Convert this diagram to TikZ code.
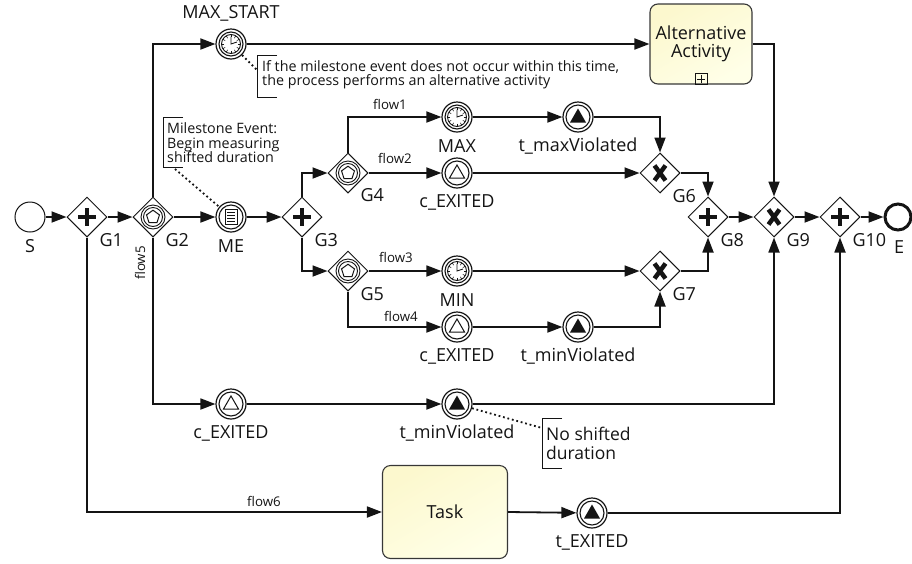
\documentclass[tikz,border=0pt]{standalone}
\usepackage{fontspec}
\setmainfont{Open Sans}
\usetikzlibrary{arrows.meta,shapes.geometric,calc}
\definecolor{taskA}{RGB}{252,248,206}
\definecolor{taskB}{RGB}{255,255,232}
\definecolor{ink}{RGB}{20,20,20}

\begin{document}
\begin{tikzpicture}[x=1pt,y=-1pt,
  every node/.style={text=ink},
  flow/.style={draw=ink, line width=1.8pt, -{Triangle[length=15pt,width=11pt]}},
  assoc/.style={draw=ink, line width=1.8pt, dash pattern=on 1.8pt off 2.8pt},
  bracket/.style={draw=ink, line width=1pt},
  gw/.style={diamond, draw=ink, line width=1pt, minimum width=40pt, minimum height=40pt, inner sep=0pt, fill=white},
  ev/.style={circle, draw=ink, line width=1.2pt, minimum size=30pt, inner sep=0pt, fill=white},
  startev/.style={ev, line width=1pt},
  endev/.style={circle, draw=ink, line width=3pt, minimum size=26pt, inner sep=0pt, fill=white},
  task/.style={draw=ink!85, line width=1.1pt, rounded corners=8pt, top color=taskA, bottom color=taskB, shading angle=30, align=center},
  lbl/.style={font=\fontsize{18}{18}\selectfont},
  flowlbl/.style={font=\fontsize{13.3}{15}\selectfont},
  note/.style={font=\fontsize{14.3}{14}\selectfont, align=left, anchor=west, inner sep=0pt},
  % gateway markers
  plusmark/.pic={\draw[ink, line width=3.5pt] (-9,0) -- (9,0) (0,-9) -- (0,9);},
  xmark/.pic={\draw[ink, line width=4.5pt] (-5.5,-7.5) -- (5.5,7.5) (-5.5,7.5) -- (5.5,-7.5);},
  evgw/.pic={\draw[ink, line width=0.9pt] (0,0) circle (12) (0,0) circle (9.5);
             \draw[ink, line width=1pt, line join=miter] (270:6.8) -- (342:6.8) -- (54:6.8) -- (126:6.8) -- (198:6.8) -- cycle;},
  % intermediate event markers
  ring/.pic={\draw[ink, line width=1.1pt] (0,0) circle (12);},
  timer/.pic={\draw[ink, line width=0.9pt] (0,0) circle (9.5);
              \foreach \a in {0,30,...,330} \draw[ink, line width=0.6pt] (\a:6.8) -- (\a:9.5);
              \draw[ink, line width=0.9pt] (0,-7.5) -- (0,0) -- (6,-2);},
  condmark/.pic={\draw[ink, line width=0.9pt] (-6,-7.5) rectangle (6,7.5);
                 \foreach \yy in {-4.5,-1.5,1.5,4.5} \draw[ink, line width=0.8pt] (-4,\yy) -- (4,\yy);},
  sigcatch/.pic={\draw[ink, line width=1pt, line join=miter] (0,-8) -- (7.5,5) -- (-7.5,5) -- cycle;},
  sigthrow/.pic={\fill[ink] (0,-8.5) -- (8,5.5) -- (-8,5.5) -- cycle;},
]
\useasboundingbox (0,0) rectangle (912,563);

% ---- events and gateways on the main line
\node[startev] (S) at (30,217) {};
\node[gw] (G1) at (87,217) {};   \pic at (G1.center) {plusmark};
\node[gw] (G2) at (153,217) {};  \pic at (G2.center) {evgw};
\node[ev] (ME) at (231,217) {};  \pic at (ME.center) {ring}; \pic at (ME.center) {condmark};
\node[gw] (G3) at (302,217) {};  \pic at (G3.center) {plusmark};
\node[gw] (G8) at (708,217) {};  \pic at (G8.center) {plusmark};
\node[gw] (G9) at (774,217) {};  \pic at (G9.center) {xmark};
\node[gw] (G10) at (840,217) {}; \pic at (G10.center) {plusmark};
\node[endev] (E) at (898,217) {};

% ---- upper branch
\node[gw] (G4) at (348,173) {};  \pic at (G4.center) {evgw};
\node[ev] (MAX) at (457,117) {};  \pic at (MAX.center) {ring}; \pic at (MAX.center) {timer};
\node[ev] (TMAX) at (578,117) {}; \pic at (TMAX.center) {ring}; \pic at (TMAX.center) {sigthrow};
\node[ev] (CEX1) at (457,173) {}; \pic at (CEX1.center) {ring}; \pic at (CEX1.center) {sigcatch};
\node[gw] (G6) at (660,173) {};  \pic at (G6.center) {xmark};

% ---- lower branch
\node[gw] (G5) at (348,271) {};  \pic at (G5.center) {evgw};
\node[ev] (MIN) at (457,271) {};  \pic at (MIN.center) {ring}; \pic at (MIN.center) {timer};
\node[ev] (CEX2) at (457,327) {}; \pic at (CEX2.center) {ring}; \pic at (CEX2.center) {sigcatch};
\node[ev] (TMIN1) at (578,327) {}; \pic at (TMIN1.center) {ring}; \pic at (TMIN1.center) {sigthrow};
\node[gw] (G7) at (660,271) {};  \pic at (G7.center) {xmark};

% ---- timeout path
\node[ev] (MAXS) at (231,44) {}; \pic at (MAXS.center) {ring}; \pic at (MAXS.center) {timer};
\node[task, minimum width=102pt, minimum height=80pt, font=\fontsize{18}{18}\selectfont] (ALT) at (701,44) {Alternative\\Activity};
\draw[ink, line width=0.9pt] ($(ALT.south)+(-6,-11)$) rectangle ($(ALT.south)+(6,0)$);
\draw[ink, line width=0.9pt] ($(ALT.south)+(-4,-5.5)$) -- ($(ALT.south)+(4,-5.5)$)
                             ($(ALT.south)+(0,-9.5)$) -- ($(ALT.south)+(0,-1.5)$);

% ---- flow5 and flow6 paths
\node[ev] (CEX3) at (231,404) {};  \pic at (CEX3.center) {ring}; \pic at (CEX3.center) {sigcatch};
\node[ev] (TMIN2) at (457,404) {}; \pic at (TMIN2.center) {ring}; \pic at (TMIN2.center) {sigthrow};
\node[task, minimum width=125pt, minimum height=93pt, font=\fontsize{18}{18}\selectfont] (TASK) at (445,512) {Task};
\node[ev] (TEX) at (592,513) {}; \pic at (TEX.center) {ring}; \pic at (TEX.center) {sigthrow};

% ---- sequence flows
\draw[flow] (S) -- (G1);
\draw[flow] (G1) -- (G2);
\draw[flow] (G2) -- (ME);
\draw[flow] (ME) -- (G3);
\draw[flow] (G3.north) |- (G4.west);
\draw[flow] (G3.south) |- (G5.west);
\draw[flow] (G4.north) |- (MAX);
\draw[flow] (MAX) -- (TMAX);
\draw[flow] (TMAX) -| (G6.north);
\draw[flow] (G4) -- (CEX1);
\draw[flow] (CEX1) -- (G6);
\draw[flow] (G6.east) -| (G8.north);
\draw[flow] (G5) -- (MIN);
\draw[flow] (MIN) -- (G7);
\draw[flow] (G5.south) |- (CEX2);
\draw[flow] (CEX2) -- (TMIN1);
\draw[flow] (TMIN1) -| (G7.south);
\draw[flow] (G7.east) -| (G8.south);
\draw[flow] (G8) -- (G9);
\draw[flow] (G9) -- (G10);
\draw[flow] (G10) -- (E);
\draw[flow] (G2.north) |- (MAXS);
\draw[flow] (MAXS) -- (ALT.west);
\draw[flow] (ALT.east) -| (G9.north);
\draw[flow] (G2.south) |- (CEX3);
\draw[flow] (CEX3) -- (TMIN2);
\draw[flow] (TMIN2) -| (G9.south);
\draw[flow] (G1.south) |- (TASK.west);
\draw[flow] (TASK.east) -- (TEX);
\draw[flow] (TEX) -| (G10.south);

% ---- flow labels
\node[flowlbl] (f1) at (390,104) {flow1};
\node[flowlbl] (f2) at (395,158) {flow2};
\node[flowlbl] (f3) at (396,257) {flow3};
\node[flowlbl] (f4) at (401,316) {flow4};
\node[flowlbl, rotate=90] (f5) at (140,263) {flow5};
\node[flowlbl] (f6) at (264,501) {flow6};

% ---- element labels
\node[lbl] (Sl) at (30,246) {S};
\node[lbl] (El) at (899,247) {E};
\node[lbl, anchor=west] (G1l) at (96,240) {G1};
\node[lbl, anchor=west] (G2l) at (162,240) {G2};
\node[lbl, anchor=west] (G3l) at (311,240) {G3};
\node[lbl, anchor=west] (G4l) at (357,195) {G4};
\node[lbl, anchor=west] (G5l) at (357,294) {G5};
\node[lbl, anchor=west] (G6l) at (669,196) {G6};
\node[lbl, anchor=west] (G7l) at (669,294) {G7};
\node[lbl, anchor=west] (G8l) at (717,240) {G8};
\node[lbl, anchor=west] (G9l) at (783,240) {G9};
\node[lbl, anchor=west] (G10l) at (849,240) {G10};
\node[lbl] (MEl) at (231,246) {ME};
\node[lbl] (MAXSl) at (231,13) {MAX\_START};
\node[lbl] (MAXl) at (457,146) {MAX};
\node[lbl] (TMAXl) at (578,146) {t\_maxViolated};
\node[lbl] (CEX1l) at (457,202) {c\_EXITED};
\node[lbl] (MINl) at (457,300) {MIN};
\node[lbl] (CEX2l) at (457,356) {c\_EXITED};
\node[lbl] (TMIN1l) at (578,356) {t\_minViolated};
\node[lbl] (CEX3l) at (231,433) {c\_EXITED};
\node[lbl] (TMIN2l) at (457,433) {t\_minViolated};
\node[lbl] (TEXl) at (592,542) {t\_EXITED};

% ---- text annotations
\draw[bracket] (277,55) -- (257,55) -- (257,97) -- (277,97);
\node[note] (N1) at (262,75) {If the milestone event does not occur within this time,\\the process performs an alternative activity};
\coordinate (N1a) at (257,70);
\draw[assoc] (MAXS) -- (N1a);

\draw[bracket] (183,117) -- (163,117) -- (163,167) -- (183,167);
\node[note, font=\fontsize{14.3}{14.5}\selectfont] (N2) at (167,143) {Milestone Event:\\Begin measuring\\shifted duration};
\coordinate (N2a) at (175,169);
\draw[assoc] (N2a) -- (ME);

\draw[bracket] (562,418) -- (542,418) -- (542,468) -- (562,468);
\node[note, font=\fontsize{17.5}{19}\selectfont] (N3) at (546,443) {No shifted\\duration};
\coordinate (N3a) at (542,428);
\draw[assoc] (TMIN2) -- (N3a);
\end{tikzpicture}
\end{document}
